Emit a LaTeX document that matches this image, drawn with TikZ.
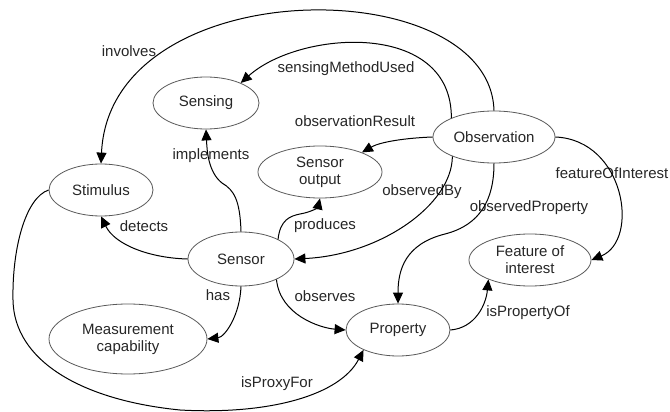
\documentclass[tikz,border=0pt]{standalone}
\usepackage{fontspec}
\setmainfont{Liberation Sans}
\usetikzlibrary{shapes.geometric,arrows.meta}
\begin{document}
\begin{tikzpicture}[x=1pt,y=-1pt,
  concept/.style={ellipse,draw=black!65,line width=0.8pt,inner sep=0pt,align=center,
    font=\fontsize{15}{17}\selectfont,text=black!85},
  lbl/.style={font=\fontsize{15}{17}\selectfont,text=black!85,inner sep=0pt},
  rel/.style={line width=1pt,-{Triangle[length=11pt,width=10pt]}}]
\useasboundingbox (0,0) rectangle (670,412);
\node[concept,minimum width=106pt,minimum height=52pt] (sensing) at (206,103) {Sensing};
\node[concept,minimum width=104pt,minimum height=52pt] (stim) at (101,190) {Stimulus};
\node[concept,minimum width=124pt,minimum height=52pt] (so) at (320,172) {Sensor\\output};
\node[concept,minimum width=122pt,minimum height=52pt] (obs) at (494,137) {Observation};
\node[concept,minimum width=106pt,minimum height=54pt] (sensor) at (241,259) {Sensor};
\node[concept,minimum width=158pt,minimum height=70pt] (meas) at (128,339) {Measurement\\capability};
\node[concept,minimum width=104pt,minimum height=52pt] (prop) at (398,330) {Property};
\node[concept,minimum width=122pt,minimum height=52pt] (feat) at (530,260) {Feature of\\interest};

\node[lbl] (linv) at (129,51) {involves};
\node[lbl] (lsmu) at (346,69) {sensingMethodUsed};
\node[lbl] (lor) at (355,121) {observationResult};
\node[lbl] (limp) at (211,156) {implements};
\node[lbl] (lob) at (422,192) {observedBy};
\node[lbl] (lfoi) at (612,173) {featureOfInterest};
\node[lbl] (lop) at (529,208) {observedProperty};
\node[lbl] (lprod) at (325,226) {produces};
\node[lbl] (ldet) at (144,226) {detects};
\node[lbl] (lhas) at (218,295) {has};
\node[lbl] (lobs) at (325,296) {observes};
\node[lbl] (lipo) at (528,313) {isPropertyOf};
\node[lbl] (lipf) at (277,384) {isProxyFor};

\draw[rel] (obs.north) .. controls (490,-30) and (110,-30) .. (stim.north);
\draw[rel] (obs.156) .. controls (452,20) and (300,30) .. (sensing.30);
\draw[rel] (obs.west) .. controls (405,138) and (380,142) .. (so.25);
\draw[rel] (obs.205) .. controls (452,205) and (380,255) .. (sensor.east);
\draw[rel] (obs.east) .. controls (625,140) and (640,240) .. (feat.east);
\draw[rel] (obs.south) .. controls (494,200) and (480,225) .. (445,234) .. controls (405,244) and (398,270) .. (prop.north);
\draw[rel] (sensor.north) .. controls (240,200) and (234,190) .. (222,183) .. controls (208,172) and (207,150) .. (sensing.south);
\draw[rel] (sensor.28) .. controls (280,220) and (290,216) .. (300,214) .. controls (312,212) and (318,207) .. (so.south);
\draw[rel] (sensor.west) .. controls (150,258) and (115,245) .. (stim.south);
\draw[rel] (sensor.south) .. controls (240,315) and (225,337) .. (meas.east);
\draw[rel] (sensor.330) .. controls (280,315) and (320,328) .. (prop.west);
\draw[rel] (prop.east) .. controls (475,328) and (486,305) .. (feat.205);
\draw[rel] (stim.west) .. controls (25,198) and (12,250) .. (13,300) .. controls (14,360) and (80,400) .. (180,410) .. controls (270,415) and (340,395) .. (prop.210);
\end{tikzpicture}
\end{document}
